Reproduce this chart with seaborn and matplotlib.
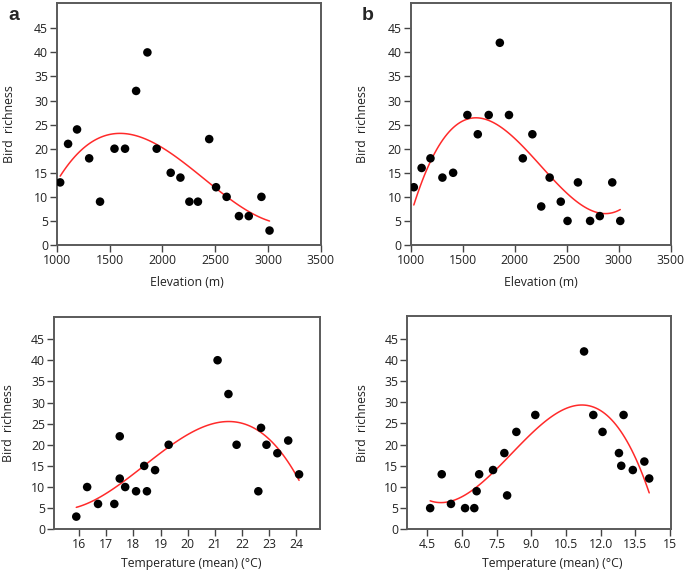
import matplotlib
matplotlib.use("Agg")
import matplotlib.pyplot as plt
import seaborn as sns
import pandas as pd

# ---- data ----
elevation = [1030, 1105, 1190, 1305, 1408, 1545, 1645, 1750, 1857, 1945, 2078,
             2170, 2255, 2336, 2443, 2508, 2608, 2725, 2818, 2938, 3015]
richness_a = [13, 21, 24, 18, 9, 20, 20, 32, 40, 20, 15, 14, 9, 9, 22, 12, 10, 6, 6, 10, 3]
richness_b = [12, 16, 18, 14, 15, 27, 23, 27, 42, 27, 18, 23, 8, 14, 9, 5, 13, 5, 6, 13, 5]

temp_c = [15.9, 16.3, 16.7, 17.3, 17.5, 17.5, 17.7, 18.1, 18.4, 18.5, 18.8,
          19.3, 21.1, 21.5, 21.8, 22.6, 22.7, 22.9, 23.3, 23.7, 24.1]
richness_c = [3, 10, 6, 6, 22, 12, 10, 9, 15, 9, 14, 20, 40, 32, 20, 9, 24, 20, 18, 21, 13]

temp_d = [4.62, 5.12, 5.52, 6.13, 6.53, 6.63, 6.74, 7.34, 7.83, 7.95, 8.35,
          9.17, 11.28, 11.68, 12.08, 12.79, 12.89, 12.99, 13.39, 13.89, 14.1]
richness_d = [5, 13, 6, 5, 5, 9, 13, 14, 18, 8, 23, 27, 42, 27, 23, 18, 15, 27, 14, 16, 12]

yticks = [0, 5, 10, 15, 20, 25, 30, 35, 40, 45]
xticks_elev = [1000, 1500, 2000, 2500, 3000, 3500]
xticks_c = [16, 17, 18, 19, 20, 21, 22, 23, 24]
xticks_d = [4.5, 6.0, 7.5, 9.0, 10.5, 12.0, 13.5, 15]
xticklabels_d = ["4.5", "6.0", "7.5", "9.0", "10.5", "12.0", "13.5", "15"]

ylabel = "Bird  richness"
xlabel_elev = "Elevation (m)"
xlabel_temp = "Temperature (mean) (°C)"

sns.set_theme(style="white")
plt.rcParams["font.family"] = ["Open Sans", "DejaVu Sans"]

W, H = 685, 574
fig = plt.figure(figsize=(W / 100, H / 100), dpi=100)


def box(l, r, t, b):
    return [l / W, 1 - b / H, (r - l) / W, (b - t) / H]


# label centres given in figure pixels
panels = [
    dict(px=(57, 320.7, 3.3, 245), x=elevation, y=richness_a, xlim=(1000, 3500),
         xt=xticks_elev, xtl=[str(v) for v in xticks_elev], xl=xlabel_elev,
         ylim=(0, 50.2), xlab_px=(187, 283), ylab_px=(10, 124), letter="a"),
    dict(px=(410.7, 670.7, 3.3, 245), x=elevation, y=richness_b, xlim=(1000, 3500),
         xt=xticks_elev, xtl=[str(v) for v in xticks_elev], xl=xlabel_elev,
         ylim=(0, 50.2), xlab_px=(541, 283), ylab_px=(362, 124), letter="b"),
    dict(px=(54, 320, 316.7, 529.3), x=temp_c, y=richness_c, xlim=(15.08, 24.87),
         xt=xticks_c, xtl=[str(v) for v in xticks_c], xl=xlabel_temp,
         ylim=(0, 50.3), xlab_px=(191, 564), ylab_px=(9, 423), letter=None),
    dict(px=(407.3, 670.7, 316.3, 529.3), x=temp_d, y=richness_d, xlim=(3.63, 15.03),
         xt=xticks_d, xtl=xticklabels_d, xl=xlabel_temp,
         ylim=(0, 50.3), xlab_px=(552, 564), ylab_px=(363, 423), letter=None),
]

for p in panels:
    l, r, t, b = p["px"]
    ax = fig.add_axes(box(l, r, t, b))
    df = pd.DataFrame({"x": p["x"], "y": p["y"]})
    sns.regplot(data=df, x="x", y="y", order=3, ci=None, ax=ax,
                scatter_kws=dict(s=38, color="black", edgecolor="none", alpha=1, zorder=3),
                line_kws=dict(color="#ff2a2a", lw=1.1, zorder=2))
    ax.set_xlim(*p["xlim"])
    ax.set_ylim(*p["ylim"])
    ax.set_xticks(p["xt"])
    ax.set_xticklabels(p["xtl"])
    ax.set_yticks(yticks)
    ax.tick_params(axis="both", which="major", direction="out", length=5, width=1,
                   color="#444444", labelsize=8.8, labelcolor="#222222", pad=1.5,
                   bottom=True, left=True, top=False, right=False)
    for s in ax.spines.values():
        s.set_visible(True)
        s.set_color("#5a5a5a")
        s.set_linewidth(1.4)
    ax.set_xlabel(p["xl"], fontsize=8.8, color="#222222")
    ax.set_ylabel(ylabel, fontsize=8.8, color="#222222")
    ax.xaxis.label.set_verticalalignment("center")
    ax.yaxis.label.set_verticalalignment("center")
    xlx, xly = p["xlab_px"]
    ylx, yly = p["ylab_px"]
    ax.xaxis.set_label_coords((xlx - l) / (r - l), (b - xly) / (b - t))
    ax.yaxis.set_label_coords((ylx - l) / (r - l), (b - yly) / (b - t))
    ax.set_facecolor("white")
    if p["letter"]:
        fig.text((l - 49) / W, 1 - 15 / H, p["letter"], fontsize=14,
                 fontweight="bold", family="Liberation Sans", ha="left", va="center")

fig.savefig("out.png", dpi=100, facecolor="white")
